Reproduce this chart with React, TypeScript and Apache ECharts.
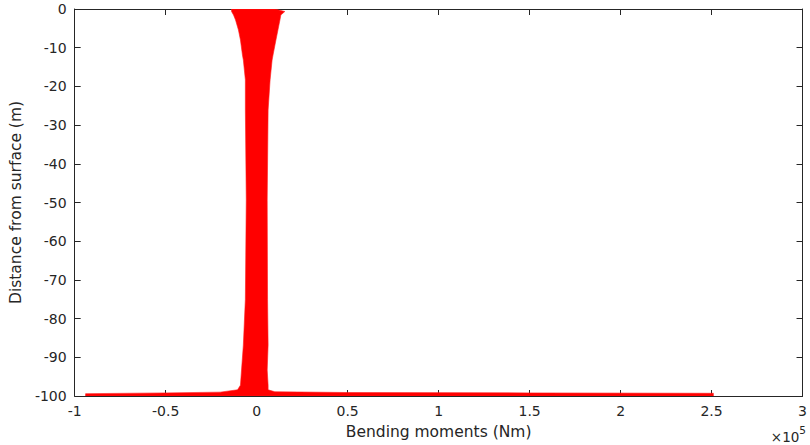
import React, { useEffect, useRef } from "react";
import * as echarts from "echarts";

// Envelope of the bending-moment profiles (Nm) versus depth (m)
const bandDepth = [0, -0.65, -1.55, -2.84, -5.43, -8, -11.9, -13.2, -18.3, -26.1, -49.4, -75, -86.8, -93.3, -97.2, -98.4];
const bandMin = [-13800, -13800, -12700, -11600, -10000, -8900, -7800, -7300, -6200, -6200, -5700, -6200, -7300, -8300, -8900, -10500];
const bandMax = [10100, 15500, 13300, 12800, 11700, 10600, 9000, 8500, 7400, 6300, 5800, 6000, 6300, 5800, 6300, 6300];

// Toe of the pile: moments spreading at the bottom
const toeLeftDepth = [-99.0, -99.2, -99.4, -100];
const toeLeftMoment = [-20000, -50000, -94000, -94000];
const toeRightDepth = [-100, -99.3, -99.2, -99.1, -98.9];
const toeRightMoment = [251000, 251000, 150000, 50000, 10000];

const xTicks = { min: -100000, max: 300000, interval: 50000 };
const yTicks = { min: -100, max: 0, interval: 10 };

const TXT = "#262626";
const FONT = "DejaVu Sans";

function buildOutline(): number[][] {
  const pts: number[][] = [];
  for (let i = 0; i < bandDepth.length; i++) pts.push([bandMin[i], bandDepth[i]]);
  for (let i = 0; i < toeLeftDepth.length; i++) pts.push([toeLeftMoment[i], toeLeftDepth[i]]);
  for (let i = 0; i < toeRightDepth.length; i++) pts.push([toeRightMoment[i], toeRightDepth[i]]);
  for (let i = bandDepth.length - 1; i >= 0; i--) pts.push([bandMax[i], bandDepth[i]]);
  return pts;
}

export default function App() {
  const ref = useRef<HTMLDivElement>(null);
  useEffect(() => {
    if (!ref.current) return;
    const chart = echarts.init(ref.current, undefined, { renderer: "svg" });
    const outline = buildOutline();
    const axisLine = { show: true, onZero: false, lineStyle: { color: TXT, width: 1 } };
    const axisTick = { show: true, inside: true, length: 6, lineStyle: { color: TXT, width: 1 } };
    chart.setOption({
      animation: false,
      backgroundColor: "#ffffff",
      textStyle: { fontFamily: FONT },
      grid: { left: 70, right: 3, top: 9, bottom: 49, containLabel: false },
      xAxis: [
        {
          type: "value",
          position: "bottom",
          ...xTicks,
          name: "Bending moments (Nm)",
          nameLocation: "middle",
          nameGap: 28,
          nameTextStyle: { color: TXT, fontSize: 15.5, fontFamily: FONT },
          axisLine,
          axisTick,
          splitLine: { show: false },
          axisLabel: {
            color: TXT,
            fontSize: 14,
            fontFamily: FONT,
            margin: 8,
            formatter: (v: number) => String(Math.round((v / 1e5) * 10) / 10),
          },
        },
        {
          type: "value",
          position: "top",
          ...xTicks,
          axisLine,
          axisTick,
          splitLine: { show: false },
          axisLabel: { show: false },
        },
      ],
      yAxis: [
        {
          type: "value",
          position: "left",
          ...yTicks,
          name: "Distance from surface (m)",
          nameLocation: "middle",
          nameGap: 47,
          nameTextStyle: { color: TXT, fontSize: 15.5, fontFamily: FONT },
          axisLine,
          axisTick,
          splitLine: { show: false },
          axisLabel: { color: TXT, fontSize: 14, fontFamily: FONT, margin: 8 },
        },
        {
          type: "value",
          position: "right",
          ...yTicks,
          axisLine,
          axisTick,
          splitLine: { show: false },
          axisLabel: { show: false },
        },
      ],
      graphic: [
        {
          type: "text",
          right: 4,
          top: 424,
          style: {
            text: "{a|×10}{b|5}",
            rich: {
              a: { fontSize: 13.5, fontFamily: FONT, fill: TXT, padding: [6, 0, 0, 0] },
              b: { fontSize: 10.5, fontFamily: FONT, fill: TXT, verticalAlign: "top" },
            },
          },
        },
      ],
      series: [
        {
          type: "custom",
          xAxisIndex: 0,
          yAxisIndex: 0,
          clip: true,
          data: [[0, 0]],
          renderItem: (_params: any, api: any) => ({
            type: "polygon",
            shape: { points: outline.map((p) => api.coord(p)) },
            style: { fill: "#ff0000", stroke: "#ff1a1a", lineWidth: 0.6 },
          }),
        },
      ],
    });
    return () => chart.dispose();
  }, []);
  return (
    <div
      ref={ref}
      style={{ position: "absolute", left: 0, top: 0, width: 810, height: 445 }}
    />
  );
}
